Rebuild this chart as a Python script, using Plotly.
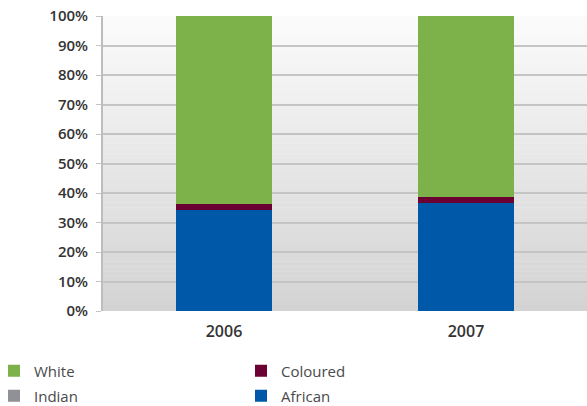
import plotly.graph_objects as go

years = ["2006", "2007"]
african = [34.2, 36.6]
coloured = [2.1, 2.0]
indian = [0.0, 0.0]
white = [63.7, 61.4]

colors = {
    "White": "#7db24a",
    "Coloured": "#6b0032",
    "Indian": "#909196",
    "African": "#0058a8",
}
# one legend box per entry: (name of legend, left px, centre row px)
legend_pos = {
    "White": ("legend", -6, 371),
    "Coloured": ("legend2", 241, 371),
    "Indian": ("legend3", -6, 396),
    "African": ("legend4", 241, 396),
}

W, H = 587, 406
ML, MR, MT, MB = 103, 0, 16, 95

fig = go.Figure()
# stacked from the bottom up
for name, vals in [("African", african), ("Coloured", coloured),
                   ("Indian", indian), ("White", white)]:
    fig.add_trace(go.Bar(x=years, y=vals, name=name,
                         marker=dict(color=colors[name], line=dict(width=0)),
                         legend=legend_pos[name][0]))

# soft vertical gradient behind the plot area
n = 60
top = (251, 251, 251)
bot = (211, 211, 211)
for i in range(n):
    t = (i + 0.5) / n
    c = tuple(round(top[k] + (bot[k] - top[k]) * t) for k in range(3))
    fig.add_shape(type="rect", xref="x domain", yref="y domain",
                  x0=0, x1=1, y0=1 - (i + 1) / n, y1=1 - i / n + 0.001,
                  fillcolor="rgb(%d,%d,%d)" % c, line=dict(width=0),
                  layer="below")

legend_font = dict(family="Open Sans", size=15, color="#4a4a4a")
pw, ph = W - ML - MR, H - MT - MB
legends = {}
for name, (key, px, py) in legend_pos.items():
    legends[key] = dict(xref="paper", yref="paper",
                        x=(px - ML) / pw, xanchor="left",
                        y=(H - MB - py) / ph, yanchor="middle",
                        font=legend_font, itemwidth=30,
                        bgcolor="rgba(0,0,0,0)")

fig.update_layout(
    width=W, height=H,
    margin=dict(l=ML, r=MR, t=MT, b=MB, autoexpand=False),
    barmode="stack",
    bargap=0.6,
    plot_bgcolor="rgba(0,0,0,0)",
    paper_bgcolor="white",
    showlegend=True,
    **legends,
    xaxis=dict(showgrid=False, showline=False, ticks="",
               ticklabelstandoff=9,
               tickfont=dict(family="Open Sans", size=16, color="#333333",
                             weight=600)),
    yaxis=dict(range=[0, 100], dtick=10, ticksuffix="%",
               showgrid=True, gridcolor="#c4c4c4", gridwidth=1.5,
               showline=True, linecolor="#bdbdbd", linewidth=2,
               ticks="outside", ticklen=5, tickcolor="#c4c4c4",
               ticklabelstandoff=5,
               tickfont=dict(family="Open Sans", size=15, color="#333333",
                             weight=600),
               zeroline=False),
)

fig.write_html("out.html")
